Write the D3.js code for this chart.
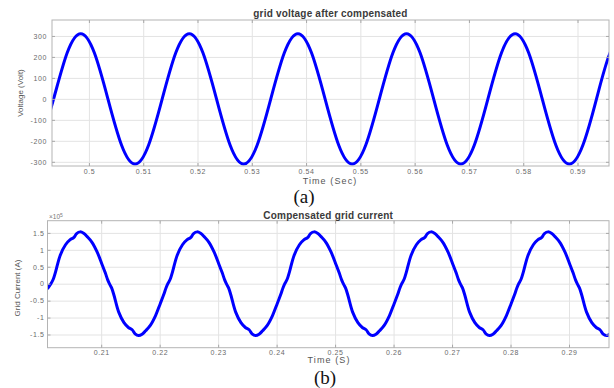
<!DOCTYPE html>
<html lang="en">
<head>
<meta charset="utf-8">
<title>Grid voltage and current</title>
<script src="https://d3js.org/d3.v7.min.js"></script>
<style type="text/css">
  body { margin: 0; background: #fff; }
  .grid line { stroke: #e3e3e3; stroke-width: 1px; }
  .grid path { display: none; }
  .axis path { display: none; }
  .axis line { stroke: #a8a8a8; }
  .axis text { font-family: "Liberation Sans", Arial, sans-serif; font-size: 7px; fill: #6a6a6a; letter-spacing: 0.6px; }
  .frame { fill: none; stroke: #b4b4b4; stroke-width: 1px; }
  .line { fill: none; stroke: #0000ff; stroke-width: 3px; stroke-linejoin: round; }
  .title { font-family: "Liberation Sans", Arial, sans-serif; font-size: 10px; font-weight: bold; fill: #3a3a3a; text-anchor: middle; letter-spacing: 0.2px; }
  .xlabel { font-family: "Liberation Sans", Arial, sans-serif; font-size: 9px; fill: #555; letter-spacing: 1.1px; text-anchor: middle; }
  .ylabel { font-family: "Liberation Sans Narrow", "Liberation Sans", Arial, sans-serif; font-size: 8px; fill: #555; text-anchor: middle; }
  .tag { font-family: "Liberation Serif", "Times New Roman", serif; font-size: 19px; fill: #111; text-anchor: middle; }
  .expo { font-family: "Liberation Sans", Arial, sans-serif; font-size: 6.5px; fill: #777; }
</style>
</head>
<body>
<script type="text/javascript">

// (a) grid voltage after compensation, volts
const voltageTime = [0.4910, 0.4935, 0.4960, 0.4985, 0.5010, 0.5035, 0.5060, 0.5085, 0.5110, 0.5135,
                     0.5160, 0.5185, 0.5210, 0.5235, 0.5260, 0.5285, 0.5310, 0.5335, 0.5360, 0.5385,
                     0.5410, 0.5435, 0.5460, 0.5485, 0.5510, 0.5535, 0.5560, 0.5585, 0.5610, 0.5635,
                     0.5660, 0.5685, 0.5710, 0.5735, 0.5760, 0.5785, 0.5810, 0.5835, 0.5860, 0.5885,
                     0.5910, 0.5935, 0.5960, 0.5985];
const voltageValue = [-220, 0, 220, 311, 220, 0, -220, -311, -220, 0,
                      220, 311, 220, 0, -220, -311, -220, 0, 220, 311,
                      220, 0, -220, -311, -220, 0, 220, 311, 220, 0,
                      -220, -311, -220, 0, 220, 311, 220, 0, -220, -311,
                      -220, 0, 220, 311];
const voltageXTicks = [0.5, 0.51, 0.52, 0.53, 0.54, 0.55, 0.56, 0.57, 0.58, 0.59];
const voltageYTicks = [-300, -200, -100, 0, 100, 200, 300];

// (b) compensated grid current, in units of 10^5 A
const currentTime = [0.2008,
  0.2014, 0.2018, 0.2022, 0.2030, 0.2039, 0.2047, 0.2053, 0.2058, 0.2064, 0.2070, 0.2076, 0.2084, 0.2093, 0.2101, 0.2107, 0.2111,
  0.2114, 0.2118, 0.2122, 0.2130, 0.2139, 0.2147, 0.2153, 0.2158, 0.2164, 0.2170, 0.2176, 0.2184, 0.2193, 0.2201, 0.2207, 0.2211,
  0.2214, 0.2218, 0.2222, 0.2230, 0.2239, 0.2247, 0.2253, 0.2258, 0.2264, 0.2270, 0.2276, 0.2284, 0.2293, 0.2301, 0.2307, 0.2311,
  0.2314, 0.2318, 0.2322, 0.2330, 0.2339, 0.2347, 0.2353, 0.2358, 0.2364, 0.2370, 0.2376, 0.2384, 0.2393, 0.2401, 0.2407, 0.2411,
  0.2414, 0.2418, 0.2422, 0.2430, 0.2439, 0.2447, 0.2453, 0.2458, 0.2464, 0.2470, 0.2476, 0.2484, 0.2493, 0.2501, 0.2507, 0.2511,
  0.2514, 0.2518, 0.2522, 0.2530, 0.2539, 0.2547, 0.2553, 0.2558, 0.2564, 0.2570, 0.2576, 0.2584, 0.2593, 0.2601, 0.2607, 0.2611,
  0.2614, 0.2618, 0.2622, 0.2630, 0.2639, 0.2647, 0.2653, 0.2658, 0.2664, 0.2670, 0.2676, 0.2684, 0.2693, 0.2701, 0.2707, 0.2711,
  0.2714, 0.2718, 0.2722, 0.2730, 0.2739, 0.2747, 0.2753, 0.2758, 0.2764, 0.2770, 0.2776, 0.2784, 0.2793, 0.2801, 0.2807, 0.2811,
  0.2814, 0.2818, 0.2822, 0.2830, 0.2839, 0.2847, 0.2853, 0.2858, 0.2864, 0.2870, 0.2876, 0.2884, 0.2893, 0.2901, 0.2907, 0.2911,
  0.2914, 0.2918, 0.2922, 0.2930, 0.2939, 0.2947, 0.2953, 0.2958, 0.2964, 0.2970, 0.2976];
const currentValue = [-0.15,
  0, 0.13, 0.35, 0.84, 1.15, 1.30, 1.36, 1.48, 1.53, 1.49, 1.39, 1.23, 0.94, 0.59, 0.32, 0.12,
  0, -0.13, -0.35, -0.84, -1.15, -1.30, -1.36, -1.48, -1.53, -1.49, -1.39, -1.23, -0.94, -0.59, -0.32, -0.12,
  0, 0.13, 0.35, 0.84, 1.15, 1.30, 1.36, 1.48, 1.53, 1.49, 1.39, 1.23, 0.94, 0.59, 0.32, 0.12,
  0, -0.13, -0.35, -0.84, -1.15, -1.30, -1.36, -1.48, -1.53, -1.49, -1.39, -1.23, -0.94, -0.59, -0.32, -0.12,
  0, 0.13, 0.35, 0.84, 1.15, 1.30, 1.36, 1.48, 1.53, 1.49, 1.39, 1.23, 0.94, 0.59, 0.32, 0.12,
  0, -0.13, -0.35, -0.84, -1.15, -1.30, -1.36, -1.48, -1.53, -1.49, -1.39, -1.23, -0.94, -0.59, -0.32, -0.12,
  0, 0.13, 0.35, 0.84, 1.15, 1.30, 1.36, 1.48, 1.53, 1.49, 1.39, 1.23, 0.94, 0.59, 0.32, 0.12,
  0, -0.13, -0.35, -0.84, -1.15, -1.30, -1.36, -1.48, -1.53, -1.49, -1.39, -1.23, -0.94, -0.59, -0.32, -0.12,
  0, 0.13, 0.35, 0.84, 1.15, 1.30, 1.36, 1.48, 1.53, 1.49, 1.39, 1.23, 0.94, 0.59, 0.32, 0.12,
  0, -0.13, -0.35, -0.84, -1.15, -1.30, -1.36, -1.48, -1.53, -1.49, -1.39];
const currentXTicks = [0.21, 0.22, 0.23, 0.24, 0.25, 0.26, 0.27, 0.28, 0.29];
const currentYTicks = [-1.5, -1, -0.5, 0, 0.5, 1, 1.5];

const w = 614;
const h = 388;

const svg = d3.select("body").append("svg").attr("width", w).attr("height", h);

function drawPanel(p) {
    const x = d3.scaleLinear().domain(p.xDomain).range([p.left, p.right]);
    const y = d3.scaleLinear().domain(p.yDomain).range([p.bottom, p.top]);
    const g = svg.append("g");
    const iw = p.right - p.left, ih = p.bottom - p.top;

    // grid
    g.append("g").attr("class", "grid")
        .attr("transform", "translate(0," + p.bottom + ")")
        .call(d3.axisBottom(x).tickValues(p.xTicks).tickSize(-ih).tickFormat(""));
    g.append("g").attr("class", "grid")
        .attr("transform", "translate(" + p.left + ",0)")
        .call(d3.axisLeft(y).tickValues(p.yTicks).tickSize(-iw).tickFormat(""));

    // curve
    g.append("clipPath").attr("id", p.id)
        .append("rect").attr("x", p.left).attr("y", p.top - 3).attr("width", iw).attr("height", ih + 6);
    const line = d3.line().x(d => x(d[0])).y(d => y(d[1])).curve(p.curve);
    g.append("path")
        .datum(d3.zip(p.t, p.v))
        .attr("class", "line")
        .attr("clip-path", "url(#" + p.id + ")")
        .attr("d", line);

    // frame and inward ticks
    g.append("rect").attr("class", "frame")
        .attr("x", p.left).attr("y", p.top).attr("width", iw).attr("height", ih);
    g.append("g").attr("class", "axis")
        .attr("transform", "translate(0," + p.bottom + ")")
        .call(d3.axisBottom(x).tickValues(p.xTicks).tickSizeInner(-3).tickSizeOuter(0)
            .tickPadding(p.xPad).tickFormat(d => String(d)));
    g.append("g").attr("class", "axis")
        .attr("transform", "translate(0," + p.top + ")")
        .call(d3.axisTop(x).tickValues(p.xTicks).tickSizeInner(-3).tickSizeOuter(0).tickFormat(""));
    g.append("g").attr("class", "axis")
        .attr("transform", "translate(" + p.left + ",0)")
        .call(d3.axisLeft(y).tickValues(p.yTicks).tickSizeInner(-3).tickSizeOuter(0)
            .tickPadding(p.yPad).tickFormat(d => String(d)));
    g.append("g").attr("class", "axis")
        .attr("transform", "translate(" + p.right + ",0)")
        .call(d3.axisRight(y).tickValues(p.yTicks).tickSizeInner(-3).tickSizeOuter(0).tickFormat(""));

    // texts
    g.append("text").attr("class", "title")
        .attr("x", (p.left + p.right) / 2).attr("y", p.titleY).text(p.title);
    g.append("text").attr("class", "xlabel")
        .attr("x", p.xLabelX).attr("y", p.xLabelY).text(p.xLabel);
    g.append("text").attr("class", "ylabel")
        .attr("transform", "translate(" + p.yLabelX + "," + p.yLabelY + ") rotate(-90)")
        .text(p.yLabel);
    g.append("text").attr("class", "tag")
        .attr("x", p.tagX).attr("y", p.tagY).text(p.tag);
    return g;
}

drawPanel({
    id: "clipA", left: 52, right: 609, top: 20, bottom: 166,
    xDomain: [0.4932, 0.5958], yDomain: [-320, 376],
    xTicks: voltageXTicks, yTicks: voltageYTicks,
    t: voltageTime, v: voltageValue, curve: d3.curveNatural,
    xPad: 3, yPad: 5,
    title: "grid voltage after compensated", titleY: 16.5,
    xLabel: "Time (Sec)", xLabelX: 330, xLabelY: 184,
    yLabel: "Voltage (Volt)", yLabelX: 23, yLabelY: 93,
    tag: "(a)", tagX: 304, tagY: 203
});

const gB = drawPanel({
    id: "clipB", left: 47.5, right: 609, top: 220.7, bottom: 347.7,
    xDomain: [0.20082, 0.29684], yDomain: [-1.89, 1.86],
    xTicks: currentXTicks, yTicks: currentYTicks,
    t: currentTime, v: currentValue, curve: d3.curveCatmullRom,
    xPad: 2, yPad: 3,
    title: "Compensated grid current", titleY: 219,
    xLabel: "Time (S)", xLabelX: 329, xLabelY: 363,
    yLabel: "Grid Current (A)", yLabelX: 20, yLabelY: 288,
    tag: "(b)", tagX: 325, tagY: 384
});

// exponent marker of the current axis
const expo = gB.append("text").attr("class", "expo").attr("x", 49).attr("y", 219);
expo.append("tspan").text("\u00d710");
expo.append("tspan").attr("dy", -2.5).attr("font-size", "5px").text("5");

</script>
</body>
</html>
